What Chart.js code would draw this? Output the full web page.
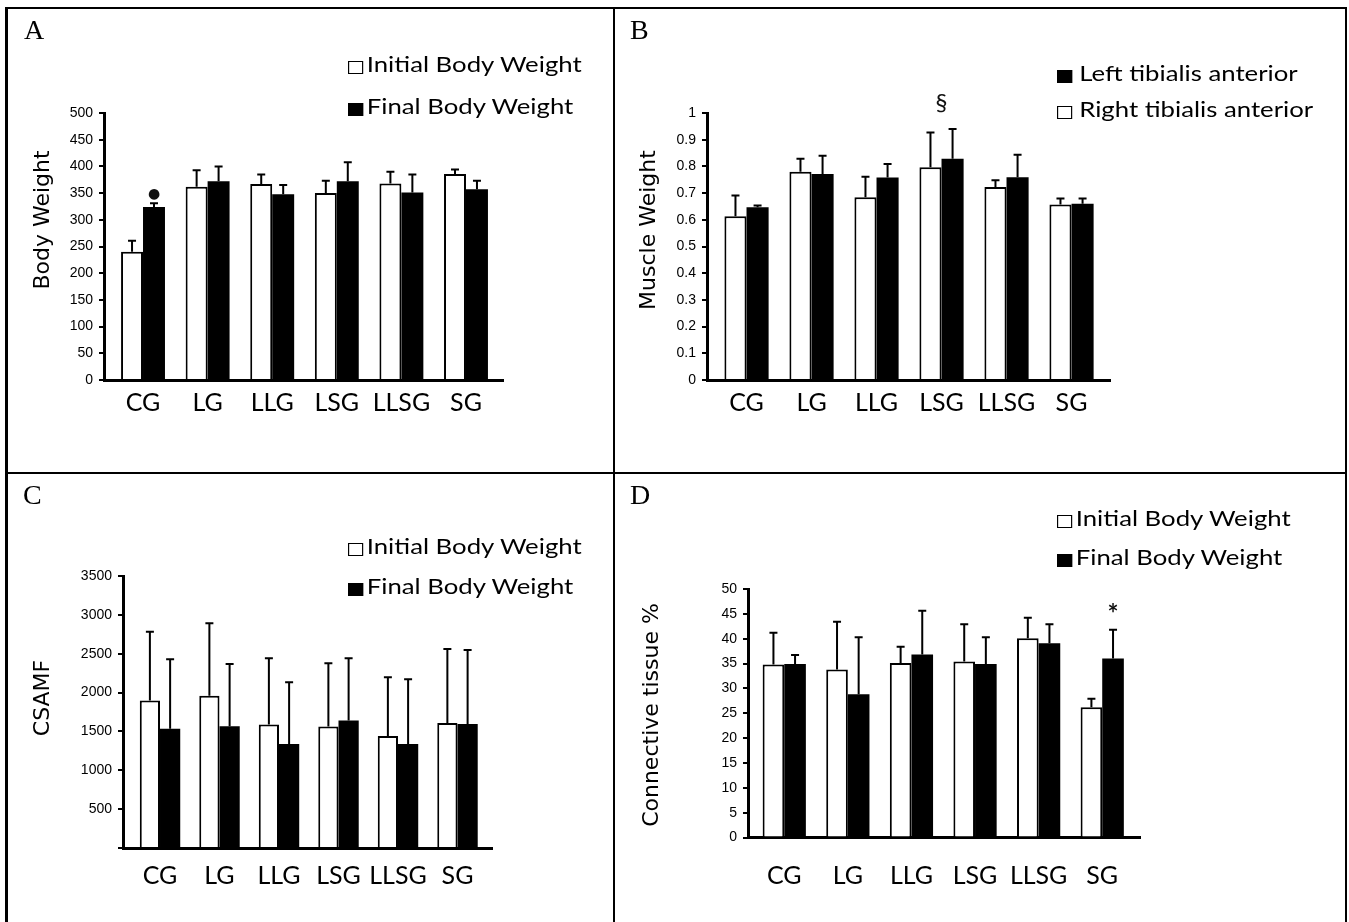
<!DOCTYPE html>
<html>
<head>
<meta charset="utf-8">
<script src="https://cdn.jsdelivr.net/npm/chart.js@4.4.1/dist/chart.umd.min.js"></script>
<style>
  html, body { margin: 0; padding: 0; background: #fff; }
  #page { position: relative; width: 1349px; height: 922px; overflow: hidden; background: #fff; }
  canvas { position: absolute; }
  .rule { position: absolute; background: #000; }
  .letter { position: absolute; font-family: 'Liberation Serif', serif; font-size: 28px; line-height: 1; color: #000; }
  .legend { position: absolute; font-family: Lato, sans-serif; font-size: 22px; line-height: 1; color: #000;
            white-space: nowrap; transform-origin: 0 0; transform: scaleX(1.17); }
  .sw { display: inline-block; width: 13px; height: 13px; box-sizing: border-box; border: 1.5px solid #000;
        background: #fff; margin-right: 3px; vertical-align: -2px; }
  .sw.fill { background: #000; }
  .sw.gap { margin-right: 6px; }
  .ytitle { position: absolute; font-family: 'DejaVu Sans', sans-serif; font-size: 22px; line-height: 1; color: #000;
            white-space: nowrap; transform: translate(-50%, -50%) rotate(-90deg); }
</style>
</head>
<body>
<div id="page">
  <canvas id="chartA" width="615" height="473" style="left:0;top:0"></canvas>
  <canvas id="chartB" width="734" height="473" style="left:615px;top:0"></canvas>
  <canvas id="chartC" width="615" height="449" style="left:0;top:473px"></canvas>
  <canvas id="chartD" width="734" height="449" style="left:615px;top:473px"></canvas>

  <div class="rule" style="left:5px;top:7px;width:1342px;height:2px"></div>
  <div class="rule" style="left:5px;top:7px;width:3px;height:915px"></div>
  <div class="rule" style="left:1345px;top:7px;width:2px;height:915px"></div>
  <div class="rule" style="left:613px;top:7px;width:2px;height:915px"></div>
  <div class="rule" style="left:5px;top:472px;width:1342px;height:2px"></div>

  <div class="letter" style="left:24px;top:16px">A</div>
  <div class="letter" style="left:630px;top:16px">B</div>
  <div class="letter" style="left:23px;top:481px">C</div>
  <div class="letter" style="left:630px;top:481px">D</div>

  <div class="legend" style="left:348px;top:53px"><span class="sw"></span>Initial Body Weight</div>
  <div class="legend" style="left:348px;top:95px"><span class="sw fill"></span>Final Body Weight</div>

  <div class="legend" style="left:1057px;top:62px"><span class="sw fill gap"></span>Left tibialis anterior</div>
  <div class="legend" style="left:1057px;top:98px"><span class="sw gap"></span>Right tibialis anterior</div>

  <div class="legend" style="left:348px;top:535px"><span class="sw"></span>Initial Body Weight</div>
  <div class="legend" style="left:348px;top:575px"><span class="sw fill"></span>Final Body Weight</div>

  <div class="legend" style="left:1057px;top:507px"><span class="sw"></span>Initial Body Weight</div>
  <div class="legend" style="left:1057px;top:546px"><span class="sw fill"></span>Final Body Weight</div>

  <div class="ytitle" style="left:42px;top:220px">Body Weight</div>
  <div class="ytitle" style="left:648px;top:230px">Muscle Weight</div>
  <div class="ytitle" style="left:42px;top:698px">CSAMF</div>
  <div class="ytitle" style="left:651px;top:715px">Connective tissue %</div>
</div>

<script>
const groups = ['CG', 'LG', 'LLG', 'LSG', 'LLSG', 'SG'];

// A - body weight
const initialWeight = [240, 362, 367, 350, 368, 386];
const initialWeightErr = [21, 31, 18, 23, 22, 8];
const finalWeight = [324, 372, 348, 372, 351, 357];
const finalWeightErr = [7, 28, 17, 36, 34, 16];
const weightTicks = [0, 50, 100, 150, 200, 250, 300, 350, 400, 450, 500];

// B - muscle weight (white = right, black = left)
const rightTA = [0.613, 0.780, 0.684, 0.797, 0.723, 0.657];
const rightTAErr = [0.078, 0.049, 0.077, 0.130, 0.025, 0.023];
const leftTA = [0.647, 0.772, 0.758, 0.829, 0.759, 0.660];
const leftTAErr = [0.007, 0.068, 0.051, 0.111, 0.085, 0.020];
const muscleTicks = [0, 0.1, 0.2, 0.3, 0.4, 0.5, 0.6, 0.7, 0.8, 0.9, 1];

// C - CSAMF
const csamfInitial = [1897, 1958, 1589, 1563, 1440, 1607];
const csamfInitialErr = [887, 934, 853, 815, 758, 955];
const csamfFinal = [1533, 1568, 1337, 1640, 1337, 1594];
const csamfFinalErr = [896, 801, 797, 802, 835, 955];
const csamfTicks = [0, 500, 1000, 1500, 2000, 2500, 3000, 3500];

// D - connective tissue
const ctInitial = [34.8, 33.8, 35.1, 35.4, 40.1, 26.2];
const ctInitialErr = [6.4, 9.6, 3.3, 7.5, 4.1, 1.7];
const ctFinal = [34.9, 28.8, 36.8, 34.9, 39.1, 36.0];
const ctFinalErr = [1.8, 11.5, 8.8, 5.4, 3.8, 5.8];
const ctTicks = [0, 5, 10, 15, 20, 25, 30, 35, 40, 45, 50];

// significance marks: symbol, group, series (null = between the two bars)
const weightMarks = [{text: '●', group: 'CG', series: 1, font: '14px "DejaVu Sans"', gap: 5}];
const muscleMarks = [{text: '§', group: 'LSG', series: null, font: '24px Lato', gap: 18}];
const ctMarks = [{text: '*', group: 'SG', series: 1, font: 'bold 26px Lato', gap: 7}];

const errorBars = {
  id: 'errorBars',
  afterDatasetsDraw(chart) {
    const ctx = chart.ctx;
    const y = chart.scales.y;
    chart.data.datasets.forEach((ds, di) => {
      const meta = chart.getDatasetMeta(di);
      meta.data.forEach((bar, i) => {
        const top = y.getPixelForValue(ds.data[i].y + ds.errors[i]);
        ctx.save();
        ctx.strokeStyle = '#000';
        ctx.lineWidth = 2;
        ctx.beginPath();
        ctx.moveTo(bar.x, bar.y);
        ctx.lineTo(bar.x, top);
        ctx.moveTo(bar.x - 4, top);
        ctx.lineTo(bar.x + 4, top);
        ctx.stroke();
        ctx.restore();
      });
    });
  }
};

const marks = {
  id: 'marks',
  afterDraw(chart, args, opts) {
    const ctx = chart.ctx;
    const y = chart.scales.y;
    (opts.items || []).forEach(m => {
      const i = groups.indexOf(m.group);
      const sets = m.series === null ? [0, 1] : [m.series];
      let x = 0, top = Infinity;
      sets.forEach(s => {
        const ds = chart.data.datasets[s];
        const bar = chart.getDatasetMeta(s).data[i];
        x += bar.x / sets.length;
        top = Math.min(top, y.getPixelForValue(ds.data[i].y + ds.errors[i]));
      });
      ctx.save();
      ctx.font = m.font;
      ctx.fillStyle = '#111';
      ctx.textAlign = 'center';
      ctx.textBaseline = 'alphabetic';
      ctx.fillText(m.text, x, top - m.gap);
      ctx.restore();
    });
  }
};

function barChart(id, cfg) {
  return new Chart(document.getElementById(id), {
    type: 'bar',
    data: {
      datasets: [
        {
          label: cfg.names[0],
          data: cfg.white.map((v, i) => ({x: i, y: v})),
          errors: cfg.whiteErr,
          backgroundColor: '#fff',
          borderColor: '#000',
          borderWidth: 2
        },
        {
          label: cfg.names[1],
          data: cfg.black.map((v, i) => ({x: i, y: v})),
          errors: cfg.blackErr,
          backgroundColor: '#000',
          borderColor: '#000',
          borderWidth: 0
        }
      ]
    },
    options: {
      responsive: false,
      animation: false,
      devicePixelRatio: 1,
      layout: {padding: cfg.padding},
      datasets: {bar: {categoryPercentage: 0.68, barPercentage: 1}},
      plugins: {
        legend: {display: false},
        tooltip: {enabled: false},
        marks: {items: cfg.marks}
      },
      scales: {
        x: {
          type: 'linear',
          min: cfg.xMin,
          max: cfg.xMax,
          offset: false,
          z: 1,
          grid: {display: false, drawTicks: false},
          border: {width: 3, color: '#000'},
          afterBuildTicks: s => { s.ticks = groups.map((g, i) => ({value: i})); },
          afterFit: s => { s.height = cfg.xHeight; },
          ticks: {
            callback: v => groups[v],
            font: {family: 'Lato', size: 25},
            color: '#000',
            padding: cfg.xPad,
            autoSkip: false,
            maxRotation: 0
          }
        },
        y: {
          min: 0,
          max: cfg.ticks[cfg.ticks.length - 1],
          z: 1,
          grid: {drawOnChartArea: false, tickLength: 5, lineWidth: 2, color: '#000'},
          border: {width: 3, color: '#000'},
          afterBuildTicks: s => { s.ticks = cfg.ticks.map(v => ({value: v})); },
          afterFit: s => { s.width = 60; },
          ticks: {
            callback: cfg.tickText || (v => String(v)),
            font: {family: 'Liberation Sans', size: 14},
            color: '#000',
            padding: 6
          }
        }
      }
    },
    plugins: [errorBars, marks]
  });
}

barChart('chartA', {
  names: ['Initial Body Weight', 'Final Body Weight'],
  white: initialWeight, whiteErr: initialWeightErr,
  black: finalWeight, blackErr: finalWeightErr,
  ticks: weightTicks,
  marks: weightMarks,
  padding: {left: 44, top: 113, right: 112, bottom: 33},
  xHeight: 60, xPad: 8,
  xMin: -0.604, xMax: 5.573
});

barChart('chartB', {
  names: ['Right tibialis anterior', 'Left tibialis anterior'],
  white: rightTA, whiteErr: rightTAErr,
  black: leftTA, blackErr: leftTAErr,
  ticks: muscleTicks,
  marks: muscleMarks,
  padding: {left: 32, top: 113, right: 239, bottom: 33},
  xHeight: 60, xPad: 8,
  xMin: -0.608, xMax: 5.592
});

barChart('chartC', {
  names: ['Initial Body Weight', 'Final Body Weight'],
  white: csamfInitial, whiteErr: csamfInitialErr,
  black: csamfFinal, blackErr: csamfFinalErr,
  ticks: csamfTicks,
  tickText: v => (v === 0 ? '' : String(v)),
  marks: [],
  padding: {left: 63, top: 103, right: 123, bottom: 14},
  xHeight: 60, xPad: 13,
  xMin: -0.622, xMax: 5.58
});

barChart('chartD', {
  names: ['Initial Body Weight', 'Final Body Weight'],
  white: ctInitial, whiteErr: ctInitialErr,
  black: ctFinal, blackErr: ctFinalErr,
  ticks: ctTicks,
  marks: ctMarks,
  padding: {left: 73, top: 116, right: 209, bottom: 14.5},
  xHeight: 70, xPad: 23,
  xMin: -0.57, xMax: 5.594
});
</script>
</body>
</html>
